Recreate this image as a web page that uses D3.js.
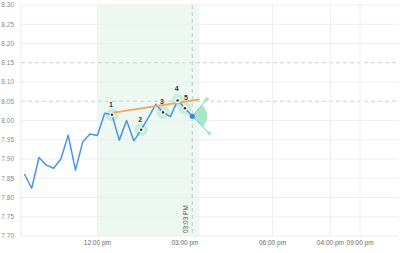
<!DOCTYPE html>
<html>
<head>
<meta charset="utf-8">
<script src="https://cdn.jsdelivr.net/npm/d3@7"></script>
<style>
  body { margin: 0; background: #fff; }
  svg { display: block; font-family: "Liberation Sans", Arial, sans-serif; }
</style>
</head>
<body>
<div class="container"></div>
<script>
// price series, one point every 15 minutes
var times = ["09:30","09:45","10:00","10:15","10:30","10:45","11:00","11:15","11:30","11:45",
             "12:00","12:15","12:30","12:45","13:00","13:15","13:30","13:45","14:00","14:15",
             "14:30","14:45","15:00","15:15"];
var values = [7.861,7.824,7.904,7.884,7.876,7.900,7.962,7.871,7.945,7.965,
              7.961,8.019,8.015,7.949,8.000,7.947,7.976,8.008,8.042,8.021,
              8.010,8.052,8.032,8.011];

// numbered pivot points (index into series)
var pivots = [12, 16, 19, 21, 22];
var pivotLabels = ["1","2","3","4","5"];

// trend line
var trendTimes = ["12:30","15:30"];
var trendValues = [8.020, 8.055];

// projection cone from the last point
var coneTimes = ["15:45","15:50"];
var coneValues = [8.055, 7.967];

// highlighted session
var bandTimes = ["12:00","15:30"];
var nowLabel = "03:03 PM";

var yTicks = [7.70,7.75,7.80,7.85,7.90,7.95,8.00,8.05,8.10,8.15,8.20,8.25,8.30];
var dashedLevels = [8.15, 8.05];
var xTickTimes = ["12:00","15:00","18:00","19:59","21:00"];
var xTickLabels = ["12:00 pm","03:00 pm","06:00 pm","04:00 pm","09:00 pm"];

var W = 400, H = 253;
var parse = d3.timeParse("%H:%M");

var svg = d3.select(".container").append("svg")
  .attr("width", W).attr("height", H);

var x = d3.scaleTime()
  .domain([parse("09:23"), parse("22:20")])
  .range([21, 399]);
var y = d3.scaleLinear().domain([7.70, 8.30]).range([236, 5]);

// band
svg.append("rect")
  .attr("x", x(parse(bandTimes[0])))
  .attr("y", y(8.30))
  .attr("width", x(parse(bandTimes[1])) - x(parse(bandTimes[0])))
  .attr("height", y(7.70) - y(8.30))
  .attr("fill", "#eef8f3");

// horizontal grid
svg.append("g").selectAll("line")
  .data(yTicks.filter(function(d) { return dashedLevels.indexOf(d) < 0; }))
  .join("line")
  .attr("x1", 21).attr("x2", 399)
  .attr("y1", function(d) { return y(d); })
  .attr("y2", function(d) { return y(d); })
  .attr("stroke", "#eeeeee").attr("stroke-width", 1);

svg.append("g").selectAll("line")
  .data(dashedLevels)
  .join("line")
  .attr("x1", 21).attr("x2", 399)
  .attr("y1", function(d) { return y(d); })
  .attr("y2", function(d) { return y(d); })
  .attr("stroke", "#cfcfcf").attr("stroke-width", 1)
  .attr("stroke-dasharray", "4,3");

// vertical grid
svg.append("g").selectAll("line")
  .data(xTickTimes)
  .join("line")
  .attr("x1", function(d) { return x(parse(d)); })
  .attr("x2", function(d) { return x(parse(d)); })
  .attr("y1", 5).attr("y2", 236)
  .attr("stroke", "#efefef").attr("stroke-width", 1);

// left edge
svg.append("line")
  .attr("x1", 21).attr("x2", 21).attr("y1", 5).attr("y2", 236)
  .attr("stroke", "#e3ecea");

// y labels
svg.append("g").selectAll("text")
  .data(yTicks)
  .join("text")
  .attr("x", 14)
  .attr("y", function(d) { return y(d) + 2.3; })
  .attr("text-anchor", "end")
  .attr("font-size", 6.5)
  .attr("fill", "#8a8a8a")
  .text(function(d) { return d.toFixed(2); });

// x labels
svg.append("g").selectAll("text")
  .data(xTickTimes)
  .join("text")
  .attr("x", function(d) { return x(parse(d)); })
  .attr("y", 245)
  .attr("text-anchor", "middle")
  .attr("font-size", 6.5)
  .attr("fill", "#6a6a6a")
  .text(function(d, i) { return xTickLabels[i]; });

// now line
var lastT = parse(times[times.length - 1]);
svg.append("line")
  .attr("x1", x(lastT)).attr("x2", x(lastT))
  .attr("y1", 5).attr("y2", 236)
  .attr("stroke", "#c8c8c8").attr("stroke-dasharray", "4,3");
svg.append("text")
  .attr("transform", "translate(" + (x(lastT) - 4) + ",233) rotate(-90)")
  .attr("font-size", 6.5)
  .attr("fill", "#555")
  .text(nowLabel);

// cone
var cx = x(lastT), cy = y(values[values.length - 1]);
var angUp = Math.atan2(y(coneValues[0]) - cy, x(parse(coneTimes[0])) - cx);
var angDn = Math.atan2(y(coneValues[1]) - cy, x(parse(coneTimes[1])) - cx);
svg.append("path")
  .attr("transform", "translate(" + cx + "," + cy + ")")
  .attr("d", d3.arc()({ innerRadius: 0, outerRadius: 15,
     startAngle: angUp + Math.PI / 2, endAngle: angDn + Math.PI / 2 }))
  .attr("fill", "#a9e6c8");
svg.append("g").selectAll("line")
  .data(coneTimes)
  .join("line")
  .attr("x1", cx).attr("y1", cy)
  .attr("x2", function(d) { return x(parse(d)); })
  .attr("y2", function(d, i) { return y(coneValues[i]); })
  .attr("stroke", "#5cc6a6").attr("stroke-width", 0.8);
svg.append("g").selectAll("rect")
  .data(coneTimes)
  .join("rect")
  .attr("x", -1.8).attr("y", -1.8).attr("width", 3.6).attr("height", 3.6)
  .attr("transform", function(d, i) {
    return "translate(" + x(parse(d)) + "," + y(coneValues[i]) + ") rotate(45)";
  })
  .attr("fill", "#a9e6c8");

// halos
svg.append("g").selectAll("circle")
  .data(pivots)
  .join("circle")
  .attr("cx", function(i) { return x(parse(times[i])); })
  .attr("cy", function(i) { return y(values[i]); })
  .attr("r", 6.5)
  .attr("fill", "#c8eed9");

// price line
var line = d3.line()
  .x(function(d, i) { return x(parse(times[i])); })
  .y(function(d) { return y(d); });
svg.append("path")
  .datum(values)
  .attr("d", line)
  .attr("fill", "none")
  .attr("stroke", "#4a94e6")
  .attr("stroke-width", 1.5)
  .attr("stroke-linejoin", "round");

// trend line
svg.append("line")
  .attr("x1", x(parse(trendTimes[0]))).attr("y1", y(trendValues[0]))
  .attr("x2", x(parse(trendTimes[1]))).attr("y2", y(trendValues[1]))
  .attr("stroke", "#f2a55c").attr("stroke-width", 1.8);

// pivot dots
var pg = svg.append("g").selectAll("g")
  .data(pivots)
  .join("g")
  .attr("transform", function(i) {
    return "translate(" + x(parse(times[i])) + "," + y(values[i]) + ")";
  });
pg.append("circle").attr("r", 2.6).attr("fill", "#fff");
pg.append("circle").attr("r", 1.3).attr("fill", "#333");
pg.append("text")
  .attr("x", function(d, k) { return k == 4 ? 1 : -1; })
  .attr("y", function(d, k) { return k == 3 ? -9 : -8; })
  .attr("text-anchor", "middle")
  .attr("font-size", 7)
  .attr("font-weight", "bold")
  .attr("fill", "#333")
  .text(function(d, k) { return pivotLabels[k]; });

// last point
svg.append("circle")
  .attr("cx", cx).attr("cy", cy).attr("r", 2.6)
  .attr("fill", "#3d86e0");
</script>
</body>
</html>
